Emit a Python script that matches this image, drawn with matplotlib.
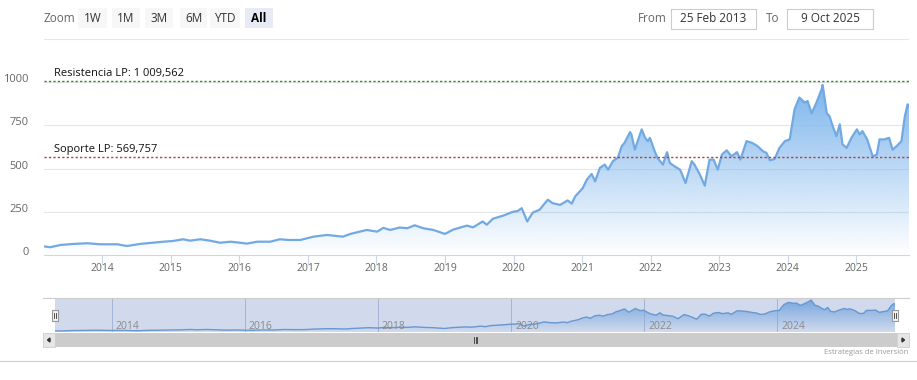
import numpy as np
import matplotlib.pyplot as plt
from matplotlib.patches import Rectangle, Polygon
from matplotlib.lines import Line2D
from matplotlib.colors import LinearSegmentedColormap
from matplotlib.transforms import ScaledTranslation

plt.rcParams['font.family'] = ['Open Sans', 'DejaVu Sans']

# fecha (año decimal) y precio
years = [2013.15, 2013.24, 2013.39, 2013.58, 2013.78, 2013.97, 2014.22, 2014.36, 2014.55, 2014.74,
         2014.89, 2015.03, 2015.18, 2015.28, 2015.43, 2015.57, 2015.72, 2015.87, 2016.01, 2016.11,
         2016.26, 2016.45, 2016.59, 2016.71, 2016.89, 2017.08, 2017.28, 2017.51, 2017.62, 2017.86,
         2018.01, 2018.10, 2018.20, 2018.34, 2018.45, 2018.56, 2018.68, 2018.83, 2019.00, 2019.12,
         2019.32, 2019.41, 2019.55, 2019.61, 2019.70, 2019.85, 2019.99, 2020.06, 2020.12, 2020.20,
         2020.28, 2020.38, 2020.50, 2020.57, 2020.68, 2020.79, 2020.85, 2020.90, 2021.01, 2021.07,
         2021.14, 2021.19, 2021.26, 2021.33, 2021.38, 2021.45, 2021.52, 2021.58, 2021.62, 2021.70,
         2021.72, 2021.77, 2021.87, 2021.92, 2021.96, 2021.99, 2022.06, 2022.10, 2022.18, 2022.24,
         2022.28, 2022.35, 2022.43, 2022.51, 2022.60, 2022.64, 2022.72, 2022.79, 2022.86, 2022.92,
         2022.98, 2023.04, 2023.11, 2023.18, 2023.26, 2023.31, 2023.40, 2023.48, 2023.56, 2023.64,
         2023.69, 2023.74, 2023.81, 2023.88, 2023.96, 2024.03, 2024.10, 2024.17, 2024.25, 2024.29,
         2024.35, 2024.42, 2024.50, 2024.51, 2024.57, 2024.61, 2024.66, 2024.71, 2024.76, 2024.80,
         2024.86, 2024.93, 2025.01, 2025.05, 2025.09, 2025.16, 2025.24, 2025.30, 2025.34, 2025.41,
         2025.48, 2025.53, 2025.59, 2025.66, 2025.71, 2025.75, 2025.77]
prices = [50, 45, 58, 64, 68, 62, 62, 52, 64, 71,
          77, 81, 91, 83, 91, 83, 71, 77, 71, 66,
          77, 77, 91, 87, 87, 106, 116, 106, 122, 145,
          135, 157, 145, 159, 155, 172, 155, 145, 122, 147,
          170, 160, 194, 175, 210, 228, 250, 254, 271, 194,
          245, 262, 320, 300, 290, 316, 297, 339, 387, 436,
          469, 426, 504, 523, 494, 543, 562, 630, 649, 711,
          698, 610, 727, 678, 659, 678, 600, 562, 523, 595,
          533, 513, 494, 417, 543, 523, 465, 401, 552, 552,
          494, 581, 606, 571, 595, 552, 659, 649, 630, 600,
          591, 548, 556, 620, 659, 669, 843, 911, 882, 891,
          820, 882, 965, 984, 820, 804, 742, 688, 756, 640,
          620, 678, 727, 698, 717, 669, 571, 581, 669, 669,
          678, 610, 630, 659, 804, 872, 860]

year_ticks = list(range(2014, 2026))
nav_ticks = [2014, 2016, 2018, 2020, 2022, 2024]
y_ticks = [0, 250, 500, 750, 1000]
y_top = 1250
resistencia = 1009.562
soporte = 569.757
zoom_buttons = ['1W', '1M', '3M', '6M', 'YTD', 'All']
date_from = '25 Feb 2013'
date_to = '9 Oct 2025'

W, H = 917, 380
blue = (124 / 255, 181 / 255, 236 / 255)
grad = LinearSegmentedColormap.from_list('g', [blue + (0.0,), blue + (1.0,)])


def fx(x):
    return x / W


def fy(y):
    return 1 - y / H


fig = plt.figure(figsize=(W / 100, H / 100), dpi=100)


def box(x0, y0, x1, y1, **kw):
    fig.patches.append(Rectangle((fx(x0), fy(y1)), (x1 - x0) / W, (y1 - y0) / H,
                                 transform=fig.transFigure, **kw))


def gradient_area(ax, base, zorder=1):
    verts = [(years[0], base)] + list(zip(years, prices)) + [(years[-1], base)]
    clip = Polygon(verts, closed=True, transform=ax.transData)
    im = ax.imshow(np.linspace(0, 1, 256).reshape(-1, 1), cmap=grad, origin='lower', aspect='auto',
                   extent=[years[0], years[-1], base, max(prices)], zorder=zorder)
    im.set_clip_path(clip)


# --- grafico principal ---
ax = fig.add_axes([fx(44), fy(255), 865 / W, 216 / H])
gradient_area(ax, 0)
ax.plot(years, prices, color='#72a9e2', lw=1.6, zorder=3)
ax.set_xlim(years[0], years[-1])
ax.set_ylim(0, y_top)

for v in y_ticks[1:] + [y_top]:
    ax.axhline(v, color='#e6e6e6', lw=0.8, zorder=0)

ax.axhline(resistencia, color='#2f8a2f', lw=1.0, ls=(0, (1.6, 1.6)), zorder=4)
ax.axhline(soporte, color='#b83c3c', lw=1.0, ls=(0, (1.6, 1.6)), zorder=4)
ax.text(0.011, resistencia + 8, 'Resistencia LP: 1 009,562', transform=ax.get_yaxis_transform(),
        fontsize=8, color='#111111', va='bottom', ha='left', zorder=5)
ax.text(0.011, soporte + 8, 'Soporte LP: 569,757', transform=ax.get_yaxis_transform(),
        fontsize=8, color='#111111', va='bottom', ha='left', zorder=5)

for s in ['top', 'left', 'right']:
    ax.spines[s].set_visible(False)
ax.spines['bottom'].set_color('#ccd6eb')
ax.set_yticks(y_ticks)
ax.set_yticklabels([str(v) for v in y_ticks])
ax.tick_params(axis='y', length=0, pad=11, labelsize=8, labelcolor='#666666')
for lab in ax.get_yticklabels():
    lab.set_transform(lab.get_transform() + ScaledTranslation(0, 4 / 100, fig.dpi_scale_trans))
ax.set_xticks(year_ticks)
ax.set_xticklabels([str(y) for y in year_ticks])
ax.tick_params(axis='x', length=7, color='#ccd6eb', width=0.8, pad=-1, labelsize=7.5,
               labelcolor='#666666')

# --- navegador ---
nav = fig.add_axes([fx(55), fy(332), 840 / W, 34 / H])
gradient_area(nav, 15)
nav.plot(years, prices, color='#6a9fd8', lw=1.0, zorder=2)
nav.set_xlim(years[0], years[-1])
nav.set_ylim(15, 1044)
nav.axvspan(years[0], years[-1], color=(102 / 255, 133 / 255, 194 / 255, 0.3), lw=0, zorder=3)
for t in nav_ticks:
    nav.axvline(t, color='#c0c8dc', lw=0.7, zorder=0.5)
    nav.text(t, 0.17, str(t), transform=nav.get_xaxis_transform(), fontsize=7.5, color='#8a8a8a',
             va='center', ha='left', zorder=4)
    nav.texts[-1].set_transform(nav.texts[-1].get_transform()
                                + ScaledTranslation(4 / 100, 0, fig.dpi_scale_trans))
nav.axis('off')

fig.add_artist(Line2D([fx(43), fx(909)], [fy(298), fy(298)], color='#cccccc', lw=0.8))
for cx in [55, 895]:
    box(cx - 3, 310, cx + 3, 321, facecolor='#f2f2f2', edgecolor='#999999', lw=0.8, zorder=5)
    for dx in [-1, 1]:
        fig.add_artist(Line2D([fx(cx + dx)] * 2, [fy(313), fy(318)], color='#333333', lw=0.6,
                              zorder=6))

# --- barra de desplazamiento ---
box(43, 333, 909, 347, facecolor='#f2f2f2', edgecolor='none')
box(55, 333, 897, 347, facecolor='#cccccc', edgecolor='none')
box(43, 333, 55, 347, facecolor='#e6e6e6', edgecolor='#cccccc', lw=0.6)
box(897, 333, 909, 347, facecolor='#e6e6e6', edgecolor='#cccccc', lw=0.6)
fig.patches.append(Polygon([(fx(47.5), fy(340)), (fx(50), fy(338)), (fx(50), fy(342))],
                           transform=fig.transFigure, color='#333333'))
fig.patches.append(Polygon([(fx(904.5), fy(340)), (fx(902), fy(338)), (fx(902), fy(342))],
                           transform=fig.transFigure, color='#333333'))
for gx in [473.5, 475.5, 477.5]:
    fig.add_artist(Line2D([fx(gx)] * 2, [fy(337), fy(343)], color='#333333', lw=0.6))

# --- selector de rango ---
fig.text(fx(43), fy(18), 'Zoom', fontsize=8.5, color='#666666', va='center', ha='left')
btn_x = [(78, 107), (112, 140), (145, 173), (180, 207), (210, 240), (245, 273)]
for name, (x0, x1) in zip(zoom_buttons, btn_x):
    sel = name == 'All'
    box(x0, 8, x1, 28, facecolor='#e6ebf5' if sel else '#f7f7f7', edgecolor='none')
    fig.text(fx((x0 + x1) / 2), fy(18), name, fontsize=8.5, color='#000000' if sel else '#333333',
             fontweight='bold' if sel else 'normal', va='center', ha='center')

fig.text(fx(638), fy(18), 'From', fontsize=8.5, color='#666666', va='center', ha='left')
box(671, 9, 756, 29, facecolor='white', edgecolor='#cccccc', lw=0.8)
fig.text(fx(713.5), fy(18.5), date_from, fontsize=8.5, color='#333333', va='center', ha='center')
fig.text(fx(766), fy(18), 'To', fontsize=8.5, color='#666666', va='center', ha='left')
box(787, 9, 873, 29, facecolor='white', edgecolor='#cccccc', lw=0.8)
fig.text(fx(830), fy(18.5), date_to, fontsize=8.5, color='#333333', va='center', ha='center')

# creditos y linea inferior
fig.text(fx(908), fy(352), 'Estrategias de Inversión', fontsize=5.5, color='#999999',
         va='center', ha='right')
fig.add_artist(Line2D([0, 1], [fy(361), fy(361)], color='#ccccdd', lw=0.8))

fig.savefig('out.png', dpi=100, facecolor='white')
